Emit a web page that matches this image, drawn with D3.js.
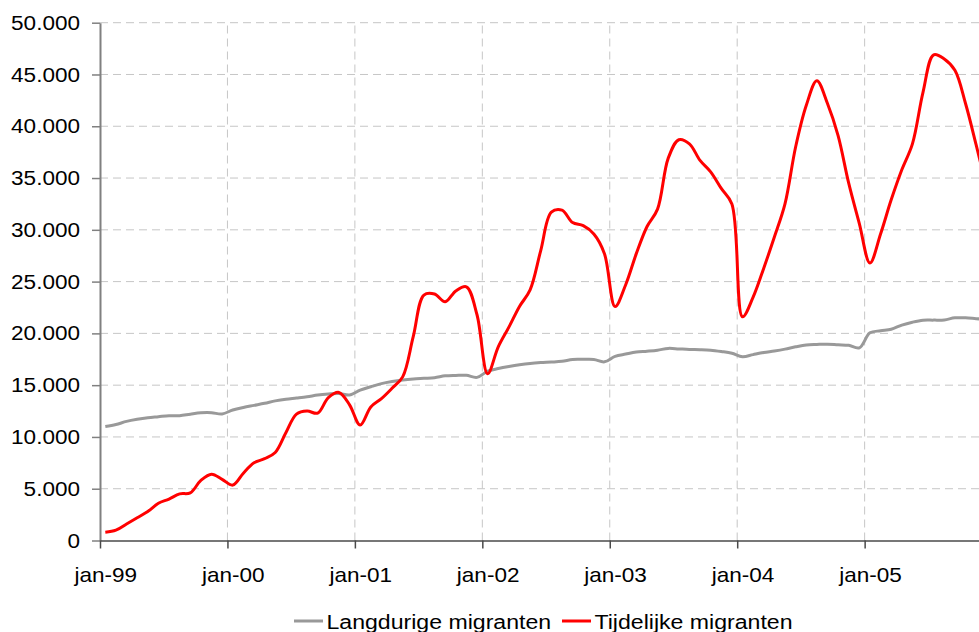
<!DOCTYPE html>
<html lang="nl">
<head>
  <meta charset="UTF-8">
  <title>Migranten</title>
  <style>
    html, body { margin: 0; padding: 0; background: #fff; overflow: hidden; }
    svg text { font-family: "Liberation Sans", Arial, sans-serif; fill: #000; }
  </style>
</head>
<body>
  <div id="chart"></div>

  <script src="https://cdn.jsdelivr.net/npm/d3@7"></script>
  <script>
    // categories: one point per month, jan-99 .. dec-05
    const years = ['99', '00', '01', '02', '03', '04', '05'];
    const monthNames = ['jan', 'feb', 'mrt', 'apr', 'mei', 'jun', 'jul', 'aug', 'sep', 'okt', 'nov', 'dec'];
    const categories = years.flatMap(y => monthNames.map(m => `${m}-${y}`));

    const tickLabels = ['jan-99', 'jan-00', 'jan-01', 'jan-02', 'jan-03', 'jan-04', 'jan-05'];
    const yTicks = [0, 5000, 10000, 15000, 20000, 25000, 30000, 35000, 40000, 45000, 50000];

    // Langdurige migranten (grey)
    const langdurig = [
      11000, 11200, 11500, 11700, 11850, 11950, 12050, 12050, 12200, 12330, 12340, 12220,
      12600, 12850, 13050, 13250, 13480, 13650, 13760, 13880, 14050, 14150, 14200, 14050,
      14520, 14850, 15150, 15350, 15500, 15600, 15660, 15720, 15900, 15940, 15950, 15750,
      16350, 16600, 16800, 16970, 17100, 17180, 17230, 17300, 17480, 17490, 17480, 17250,
      17780, 18000, 18200, 18280, 18380, 18550, 18500, 18450, 18430, 18380, 18250, 18080,
      17740, 17950, 18150, 18300, 18480, 18700, 18880, 18930, 18960, 18900, 18850, 18600,
      20050, 20250, 20400, 20800, 21080, 21270, 21280, 21300, 21500, 21500, 21420, 21350
    ];

    // Tijdelijke migranten (red)
    const tijdelijk = [
      800, 1000, 1600, 2200, 2800, 3600, 4000, 4500, 4600, 5800, 6400, 5900,
      5350, 6500, 7500, 7900, 8500, 10400, 12200, 12500, 12300, 13800, 14300, 13100,
      11150, 12900, 13700, 14700, 15800, 19700, 23700, 23800, 23050, 24100, 24500, 21800,
      16100, 18700, 20600, 22600, 24200, 28000, 31700, 31900, 30700, 30400, 29600, 27700,
      22600, 24700, 27700, 30300, 32000, 36900, 38700, 38300, 36700, 35600, 34000, 32500,
      21600, 23500, 26300, 29300, 32500, 38000, 42000, 44400, 42200, 39100, 34500, 30600,
      26800, 29600, 32900, 35800, 38300, 43300, 46900, 46500, 45400, 42200, 38200, 34000
    ];

    const width = 979;
    const height = 632;
    const plotLeft = 100, plotTop = 22.7, plotBottom = 540.5;
    const monthW = 10.62;
    const plotRight = plotLeft + categories.length * monthW;
    const sx = 1.1; // text is drawn a little wider than normal

    const nl = d3.formatLocale({ decimal: ',', thousands: '.', grouping: [3], currency: ['€', ''] });
    const fmt = nl.format(',d');

    const svg = d3.select('#chart')
      .append('svg')
      .attr('width', width)
      .attr('height', height);

    const x = d3.scaleLinear()
      .domain([0, categories.length])
      .range([plotLeft, plotRight]);

    const y = d3.scaleLinear()
      .domain([0, 50000])
      .range([plotBottom, plotTop]);

    const yearStarts = tickLabels.map((d, i) => i * 12);

    // grid
    svg.append('g')
      .selectAll('line')
      .data(yTicks.slice(1))
      .join('line')
      .attr('x1', plotLeft).attr('x2', plotRight)
      .attr('y1', d => y(d)).attr('y2', d => y(d))
      .attr('stroke', '#c6c6c6')
      .attr('stroke-width', 1)
      .attr('stroke-dasharray', '8,5');

    svg.append('g')
      .selectAll('line')
      .data(yearStarts.slice(1))
      .join('line')
      .attr('x1', d => x(d)).attr('x2', d => x(d))
      .attr('y1', y(0)).attr('y2', y(50000))
      .attr('stroke', '#c6c6c6')
      .attr('stroke-width', 1)
      .attr('stroke-dasharray', '8,5');

    // axes
    const yAxis = svg.append('g')
      .attr('transform', `translate(${plotLeft},0)`)
      .call(d3.axisLeft(y).tickValues(yTicks).tickSize(8).tickSizeOuter(0).tickFormat(fmt));
    yAxis.select('.domain').attr('stroke', '#808080').attr('stroke-width', 2);
    yAxis.selectAll('.tick line').attr('stroke', '#808080').attr('stroke-width', 1.5);
    yAxis.selectAll('.tick text')
      .attr('x', -20 / sx)
      .attr('transform', `scale(${sx},1)`)
      .style('font-size', '20.5px');

    const xAxis = svg.append('g')
      .attr('transform', `translate(0,${plotBottom})`)
      .call(d3.axisBottom(x).tickValues(yearStarts).tickSize(8).tickSizeOuter(0)
        .tickFormat((d, i) => tickLabels[i]));
    xAxis.select('.domain').attr('stroke', '#4a4a4a').attr('stroke-width', 1.5);
    xAxis.selectAll('.tick line').attr('stroke', '#4a4a4a').attr('stroke-width', 1.5);
    xAxis.selectAll('.tick text')
      .attr('x', (x(0.5) - x(0)) / sx)
      .attr('y', 27)
      .attr('transform', `scale(${sx},1)`)
      .style('font-size', '20.5px');

    // lines
    const line = d3.line()
      .x((d, i) => x(i + 0.5))
      .y(d => y(d))
      .curve(d3.curveCatmullRom.alpha(0.5));

    svg.append('path')
      .datum(langdurig)
      .attr('fill', 'none')
      .attr('stroke', '#999999')
      .attr('stroke-width', 3)
      .attr('d', line);

    svg.append('path')
      .datum(tijdelijk)
      .attr('fill', 'none')
      .attr('stroke', '#ff0000')
      .attr('stroke-width', 3)
      .attr('d', line);

    // legend
    const legendItems = [
      { name: 'Langdurige migranten', color: '#999999', x: 294 },
      { name: 'Tijdelijke migranten', color: '#ff0000', x: 562 }
    ];
    const lg = svg.append('g').selectAll('g')
      .data(legendItems)
      .join('g')
      .attr('transform', d => `translate(${d.x},621)`);
    lg.append('line')
      .attr('x1', 0).attr('x2', 29)
      .attr('stroke', d => d.color)
      .attr('stroke-width', 3);
    lg.append('text')
      .attr('x', 32.5 / sx)
      .attr('y', 8)
      .attr('transform', `scale(${sx},1)`)
      .style('font-size', '21px')
      .text(d => d.name);
  </script>
</body>
</html>
